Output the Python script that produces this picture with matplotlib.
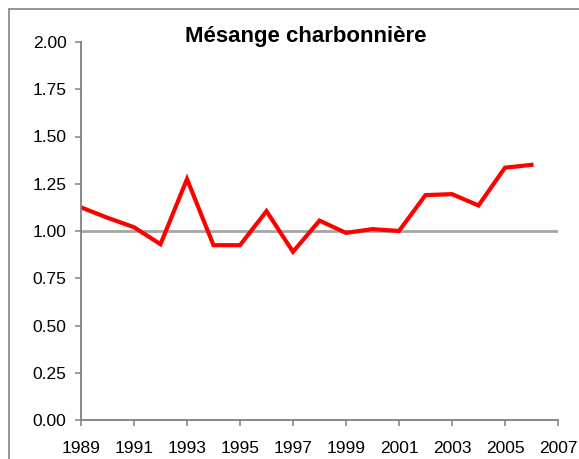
import matplotlib.pyplot as plt
import matplotlib.patches as patches
from matplotlib.ticker import FormatStrFormatter, MultipleLocator

plt.rcParams['font.family'] = ['Liberation Sans', 'DejaVu Sans']

title = "Mésange charbonnière"
years = [1989, 1990, 1991, 1992, 1993, 1994, 1995, 1996, 1997,
         1998, 1999, 2000, 2001, 2002, 2003, 2004, 2005, 2006]
index = [1.125, 1.07, 1.02, 0.93, 1.275, 0.925, 0.925, 1.105, 0.89,
         1.055, 0.99, 1.01, 1.00, 1.19, 1.195, 1.135, 1.335, 1.35]
year_ticks = [1989, 1991, 1993, 1995, 1997, 1999, 2001, 2003, 2005, 2007]
reference = 1.0


def create_chart():
    fig = plt.figure(figsize=(5.79, 4.59), dpi=100)
    ax = fig.add_axes([81 / 579, 39 / 459, 477 / 579, 378 / 459])

    # outer frame, cut by the right and bottom edges
    frame = patches.Rectangle((8.5 / 579, -0.2), 1.5, 0.2 + 450 / 459,
                              transform=fig.transFigure, fill=False,
                              edgecolor='#8c8c8c', linewidth=1.3)
    fig.patches.append(frame)

    ax.axhline(reference, color='#a6a6a6', linewidth=2.0, zorder=1)
    ax.plot(years, index, color='#ff0000', linewidth=3.0,
            solid_joinstyle='miter', zorder=2)

    ax.set_xlim(1989, 2007)
    ax.set_ylim(0, 2)
    ax.set_xticks(year_ticks)
    ax.yaxis.set_major_locator(MultipleLocator(0.25))
    ax.yaxis.set_major_formatter(FormatStrFormatter('%.2f'))

    for side in ['top', 'right']:
        ax.spines[side].set_visible(False)
    for side in ['left', 'bottom']:
        ax.spines[side].set_color('#808080')
        ax.spines[side].set_linewidth(1.3)
    ax.tick_params(axis='both', direction='out', length=4, width=1.1,
                   color='#808080', labelsize=12.5, labelcolor='black')
    ax.tick_params(axis='y', pad=6.5)
    ax.tick_params(axis='x', pad=11)

    fig.text(305.4 / 579, (459 - 41.7) / 459, title, fontsize=16,
             fontweight='bold', ha='center', va='baseline')

    fig.savefig('out.png', dpi=100)
    plt.close(fig)


if __name__ == "__main__":
    create_chart()
